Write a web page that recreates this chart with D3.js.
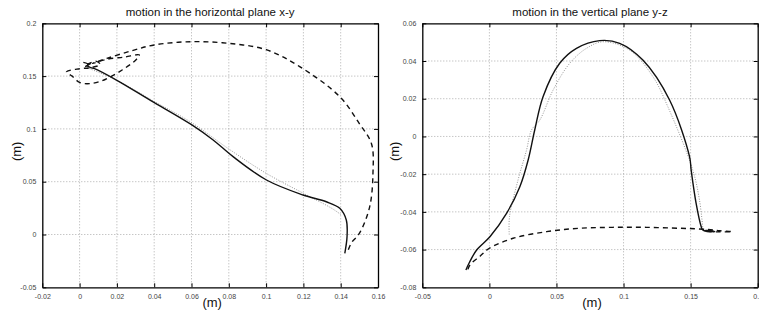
<!DOCTYPE html>
<html>
<head>
<meta charset="utf-8">
<script src="https://cdn.jsdelivr.net/npm/d3@7"></script>
<style>
  body { margin: 0; background: #fff; }
  svg { display: block; font-family: "Liberation Sans", Arial, Helvetica, sans-serif; color: #000; }
  text { -webkit-font-smoothing: antialiased; }
  .tick text { fill: #444; font-size: 7px; }
  .grid line { stroke: #999; stroke-width: 0.8; stroke-dasharray: 1,2; }
</style>
</head>
<body>
<div id="chart"></div>
<script>
// --- data ---
// left panel: horizontal plane x-y
var xyXTicks = [-0.02, 0, 0.02, 0.04, 0.06, 0.08, 0.1, 0.12, 0.14, 0.16];
var xyYTicks = [-0.05, 0, 0.05, 0.1, 0.15, 0.2];
var xySolid = [[0.002,0.163],[0.005,0.161],[0.003,0.159],[0.006,0.162],[0.004,0.16],
  [0.006,0.158],[0.008,0.157],[0.02,0.146],[0.038,0.127],[0.06,0.104],
  [0.0716,0.0895],[0.0823,0.0737],[0.1002,0.0516],[0.1198,0.0374],[0.1323,0.031],[0.1395,0.0248],
  [0.143,0.0137],[0.1434,-0.002],[0.1422,-0.0178]];
var xyDotted = [[0.004,0.158],[0.02,0.146],[0.04,0.126],[0.06,0.106],[0.08,0.081],[0.1,0.058],
  [0.12,0.039],[0.135,0.025],[0.1404,0.0185]];
var xyDashed = [[0.004,0.161],[0.009,0.164],[0.011,0.161],[0.006,0.158],[0.0,0.157],[-0.007,0.154],
  [-0.004,0.15],[0.0,0.144],[0.006,0.143],[0.014,0.147],[0.023,0.156],[0.030,0.165],[0.032,0.170],
  [0.024,0.168],[0.015,0.166],[0.007,0.162],[0.015,0.167],[0.028,0.174],[0.04,0.1795],[0.06,0.1826],
  [0.08,0.181],[0.1,0.175],[0.118,0.159],[0.1395,0.1305],[0.15,0.105],[0.1565,0.086],[0.1573,0.058],
  [0.1555,0.026],[0.150,0.001],[0.1457,-0.008],[0.144,-0.015]];

// right panel: vertical plane y-z
var yzXTicks = [-0.05, 0, 0.05, 0.1, 0.15, 0.2];
var yzYTicks = [-0.08, -0.06, -0.04, -0.02, 0, 0.02, 0.04, 0.06];
var yzSolid = [[-0.0175,-0.0708],[-0.015,-0.067],[-0.0095,-0.0602],[0.0004,-0.0532],[0.0128,-0.0408],
  [0.0227,-0.0267],[0.0289,-0.0125],[0.0338,0.0034],[0.04,0.0211],[0.0524,0.0388],[0.0649,0.0467],
  [0.0822,0.0508],[0.0971,0.0494],[0.1144,0.0405],[0.1343,0.0193],[0.1492,-0.0107],[0.1504,-0.0178],
  [0.1541,-0.0355],[0.1579,-0.0479],[0.159,-0.0496],[0.163,-0.0503],[0.168,-0.0505],[0.164,-0.0498],
  [0.16,-0.0501],[0.165,-0.0503]];
var yzDotted = [[0.0148,-0.052],[0.015,-0.0426],[0.0214,-0.023],[0.0277,-0.0072],[0.0314,0.0034],
  [0.0376,0.0087],[0.0475,0.0246],[0.0599,0.0388],[0.0723,0.0467],[0.0847,0.0502],[0.1045,0.0458],
  [0.1219,0.0317],[0.133,0.0158],[0.1516,-0.0178],[0.1566,-0.0337],[0.159,-0.048]];
var yzDashed = [[-0.016,-0.0705],[-0.0144,-0.068],[-0.007,-0.0635],[0.0,-0.0593],[0.0177,-0.054],
  [0.0426,-0.0505],[0.067,-0.0487],[0.092,-0.0482],[0.117,-0.0482],[0.142,-0.0487],[0.155,-0.049],
  [0.165,-0.0495],[0.172,-0.05],[0.181,-0.0505],[0.17,-0.0506],[0.16,-0.0503],[0.165,-0.0498]];

var W = 759, H = 320;
var svg = d3.select("#chart").append("svg").attr("width", W).attr("height", H);

function panel(opt) {
  var x = d3.scaleLinear().domain([opt.xTicks[0], opt.xTicks[opt.xTicks.length-1]]).range([opt.left, opt.right]);
  var y = d3.scaleLinear().domain([opt.yTicks[0], opt.yTicks[opt.yTicks.length-1]]).range([opt.bottom, opt.top]);
  var g = svg.append("g");
  var fmt = function(d){ return String(d); };

  // dotted grid
  var grid = g.append("g").attr("class", "grid");
  grid.selectAll(".gx").data(opt.xTicks.slice(1, -1)).enter().append("line")
    .attr("x1", d => x(d)).attr("x2", d => x(d)).attr("y1", opt.top).attr("y2", opt.bottom);
  grid.selectAll(".gy").data(opt.yTicks.slice(1, -1)).enter().append("line")
    .attr("y1", d => y(d)).attr("y2", d => y(d)).attr("x1", opt.left).attr("x2", opt.right);

  // curves
  var line = d3.line().x(d => x(d[0])).y(d => y(d[1])).curve(d3.curveCatmullRom.alpha(0.5));
  g.append("path").datum(opt.dotted).attr("d", line).attr("fill", "none")
    .attr("stroke", "#888").attr("stroke-width", 0.9).attr("stroke-dasharray", "1,1.5");
  g.append("path").datum(opt.dashed).attr("d", line).attr("fill", "none")
    .attr("stroke", "#111").attr("stroke-width", 1.4).attr("stroke-dasharray", "5,4");
  g.append("path").datum(opt.solid).attr("d", line).attr("fill", "none")
    .attr("stroke", "#111").attr("stroke-width", 1.4);

  // axes, ticks inward on all four sides
  g.append("g").attr("transform", "translate(0," + opt.bottom + ")")
    .call(d3.axisBottom(x).tickValues(opt.xTicks).tickFormat(fmt).tickSizeInner(-4).tickSizeOuter(0).tickPadding(7));
  g.append("g").attr("transform", "translate(0," + opt.top + ")")
    .call(d3.axisTop(x).tickValues(opt.xTicks).tickFormat("").tickSizeInner(-4).tickSizeOuter(0));
  g.append("g").attr("transform", "translate(" + opt.left + ",0)")
    .call(d3.axisLeft(y).tickValues(opt.yTicks).tickFormat(fmt).tickSizeInner(-4).tickSizeOuter(0).tickPadding(6));
  g.append("g").attr("transform", "translate(" + opt.right + ",0)")
    .call(d3.axisRight(y).tickValues(opt.yTicks).tickFormat("").tickSizeInner(-4).tickSizeOuter(0));
  g.selectAll(".domain").attr("stroke", "#000").attr("stroke-width", 1.3);
  g.selectAll(".tick line").attr("stroke", "#000");

  var cx = (opt.left + opt.right) / 2, cy = (opt.top + opt.bottom) / 2;
  g.append("text").attr("x", cx).attr("y", 16).attr("text-anchor", "middle")
    .attr("font-size", 11.5).style("fill", "#111").text(opt.title);
  g.append("text").attr("x", cx + 2).attr("y", 307).attr("text-anchor", "middle")
    .attr("font-size", 13).style("fill", "#111").text("(m)");
  g.append("text").attr("transform", "translate(" + opt.ylx + "," + (cy - 4) + ") rotate(-90)")
    .attr("text-anchor", "middle").attr("font-size", 13).style("fill", "#111").text("(m)");
}

panel({left: 42.3, right: 378, top: 23.3, bottom: 287.3, ylx: 21,
  xTicks: xyXTicks, yTicks: xyYTicks, solid: xySolid, dotted: xyDotted, dashed: xyDashed,
  title: "motion in the horizontal plane x-y"});
panel({left: 422.3, right: 757.7, top: 23.3, bottom: 287.3, ylx: 399,
  xTicks: yzXTicks, yTicks: yzYTicks, solid: yzSolid, dotted: yzDotted, dashed: yzDashed,
  title: "motion in the vertical plane y-z"});
</script>
</body>
</html>
